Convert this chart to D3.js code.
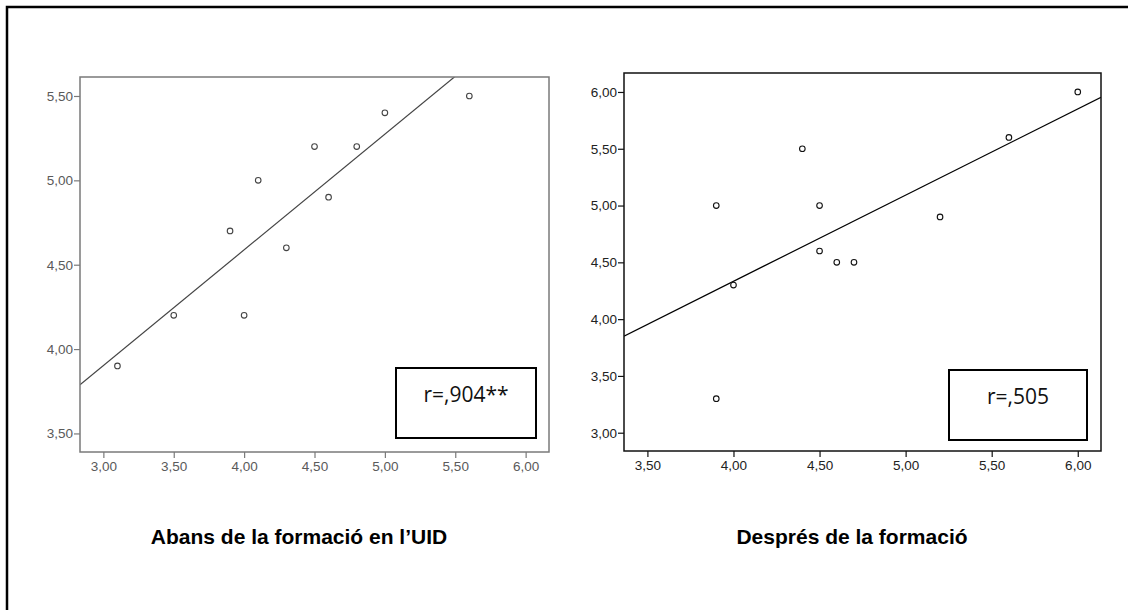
<!DOCTYPE html>
<html lang="ca">
<head>
    <meta charset="utf-8">
    <style>
        body { margin: 0; background: #fff; }
        svg { display: block; }
    </style>
</head>
<body>
    <svg width="1128" height="610"></svg>
    <script src="https://cdn.jsdelivr.net/npm/d3@7/dist/d3.min.js"></script>
    <script>
        // ----- data -----
        const beforeX = [3.1, 3.5, 4.0, 3.9, 4.1, 4.3, 4.5, 4.6, 4.8, 5.0, 5.6];
        const beforeY = [3.9, 4.2, 4.2, 4.7, 5.0, 4.6, 5.2, 4.9, 5.2, 5.4, 5.5];
        const afterX = [3.9, 3.9, 4.0, 4.4, 4.5, 4.5, 4.6, 4.7, 5.2, 5.6, 6.0];
        const afterY = [5.0, 3.3, 4.3, 5.5, 5.0, 4.6, 4.5, 4.5, 4.9, 5.6, 6.0];
        const beforeXTicks = [3.0, 3.5, 4.0, 4.5, 5.0, 5.5, 6.0];
        const beforeYTicks = [3.5, 4.0, 4.5, 5.0, 5.5];
        const afterXTicks = [3.5, 4.0, 4.5, 5.0, 5.5, 6.0];
        const afterYTicks = [3.0, 3.5, 4.0, 4.5, 5.0, 5.5, 6.0];
        const titles = ["Abans de la formació en l\u2019UID", "Després de la formació"];
        const rLabels = ["r=,904**", "r=,505"];

        const svg = d3.select("svg");

        // outer frame (runs off the right and bottom edges)
        svg.append("rect")
            .attr("x", 7).attr("y", 7).attr("width", 1140).attr("height", 620)
            .attr("fill", "none").attr("stroke", "#000").attr("stroke-width", 2.5);

        const fmt = d => d3.format(".2f")(d).replace(".", ",");

        // least squares fit
        function fit(xs, ys) {
            const mx = d3.mean(xs), my = d3.mean(ys);
            const sxy = d3.sum(xs, (x, i) => (x - mx) * (ys[i] - my));
            const sxx = d3.sum(xs, x => (x - mx) * (x - mx));
            const b = sxy / sxx;
            return x => my + b * (x - mx);
        }

        const panels = [
            { xs: beforeX, ys: beforeY, xTicks: beforeXTicks, yTicks: beforeYTicks,
              left: 80, top: 77, right: 549, bottom: 452,
              xDom: [2.834, 6.166], yDom: [3.39, 5.6125],
              frame: "#7a7a7a", tickCol: "#5a5a5a", lineCol: "#444", dotCol: "#444",
              box: [396, 368, 140, 70], title: titles[0], titleX: 299, r: rLabels[0] },
            { xs: afterX, ys: afterY, xTicks: afterXTicks, yTicks: afterYTicks,
              left: 624, top: 73, right: 1101, bottom: 451,
              xDom: [3.364, 6.135], yDom: [2.839, 6.167],
              frame: "#111", tickCol: "#222", lineCol: "#000", dotCol: "#111",
              box: [949, 370, 138, 70], title: titles[1], titleX: 852, r: rLabels[1] }
        ];

        panels.forEach(p => {
            const x = d3.scaleLinear().domain(p.xDom).range([p.left, p.right]);
            const y = d3.scaleLinear().domain(p.yDom).range([p.bottom, p.top]);
            const g = svg.append("g");

            // axes
            const xAxis = g.append("g").attr("transform", `translate(0,${p.bottom})`)
                .call(d3.axisBottom(x).tickValues(p.xTicks).tickFormat(fmt).tickSize(6).tickPadding(3));
            const yAxis = g.append("g").attr("transform", `translate(${p.left},0)`)
                .call(d3.axisLeft(y).tickValues(p.yTicks).tickFormat(fmt).tickSize(6).tickPadding(1));
            [xAxis, yAxis].forEach(a => {
                a.select(".domain").remove();
                a.selectAll("line").attr("stroke", p.frame).attr("stroke-width", 1.2);
                a.selectAll("text").attr("fill", p.tickCol)
                    .style("font-family", "Arial, 'Liberation Sans', sans-serif").style("font-size", "13.5px");
            });

            // clip for the fit line
            const clipId = `clip-${p.left}`;
            svg.append("defs").append("clipPath").attr("id", clipId)
                .append("rect").attr("x", p.left).attr("y", p.top)
                .attr("width", p.right - p.left).attr("height", p.bottom - p.top);

            const f = fit(p.xs, p.ys);
            g.append("line")
                .attr("clip-path", `url(#${clipId})`)
                .attr("x1", x(p.xDom[0])).attr("y1", y(f(p.xDom[0])))
                .attr("x2", x(p.xDom[1])).attr("y2", y(f(p.xDom[1])))
                .attr("stroke", p.lineCol).attr("stroke-width", 1.2);

            // points
            g.selectAll("circle").data(p.xs).enter()
                .append("circle")
                .attr("cx", d => x(d)).attr("cy", (d, i) => y(p.ys[i]))
                .attr("r", 2.8)
                .attr("fill", "#fff").attr("stroke", p.dotCol).attr("stroke-width", 1.1);

            // plot frame
            g.append("rect")
                .attr("x", p.left).attr("y", p.top)
                .attr("width", p.right - p.left).attr("height", p.bottom - p.top)
                .attr("fill", "none").attr("stroke", p.frame).attr("stroke-width", 1.5);

            // r box
            g.append("rect")
                .attr("x", p.box[0]).attr("y", p.box[1]).attr("width", p.box[2]).attr("height", p.box[3])
                .attr("fill", "#fff").attr("stroke", "#000").attr("stroke-width", 2);
            g.append("text")
                .attr("x", p.box[0] + p.box[2] / 2).attr("y", p.box[1] + 34)
                .attr("text-anchor", "middle")
                .style("font-family", "'Open Sans', sans-serif").style("font-size", "21px")
                .attr("fill", "#111").text(p.r);

            // title
            svg.append("text")
                .attr("x", p.titleX).attr("y", 544)
                .attr("text-anchor", "middle")
                .style("font-family", "Arial, 'Liberation Sans', sans-serif")
                .style("font-size", "21px").style("font-weight", "bold")
                .attr("fill", "#000").text(p.title);
        });
    </script>
</body>
</html>
